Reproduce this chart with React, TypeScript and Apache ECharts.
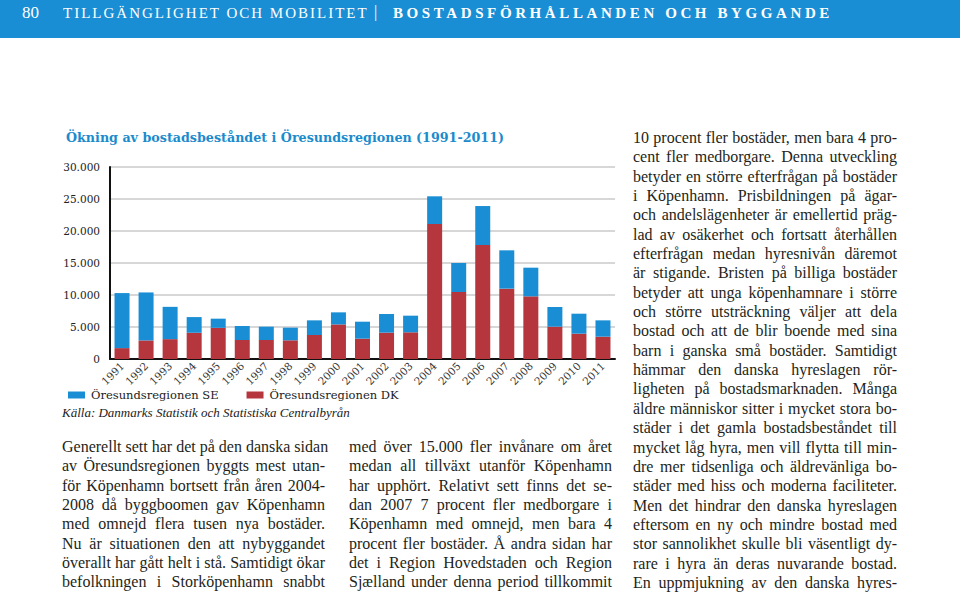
import React, { useEffect, useRef } from "react";
import * as echarts from "echarts";

const years = ["1991","1992","1993","1994","1995","1996","1997","1998","1999","2000","2001","2002","2003","2004","2005","2006","2007","2008","2009","2010","2011"];
const dkValues = [1700, 2900, 3100, 4100, 4870, 2970, 2970, 2920, 3750, 5400, 3180, 4120, 4170, 21090, 10470, 17810, 10990, 9790, 5050, 3960, 3490];
const seValues = [8600, 7500, 5050, 2450, 1430, 2190, 2080, 1980, 2290, 1890, 2650, 2910, 2600, 4330, 4530, 6090, 5990, 4480, 3075, 3120, 2550];
const yTicks = [0, 5000, 10000, 15000, 20000, 25000, 30000];
const yTickLabels = ["0", "5.000", "10.000", "15.000", "20.000", "25.000", "30.000"];
const seriesNames = ["Öresundsregionen SE", "Öresundsregionen DK"];
const chartTitle = "Ökning av bostadsbeståndet i Öresundsregionen (1991-2011)";
const sourceNote = "Källa: Danmarks Statistik och Statistiska Centralbyrån";
const pageNumber = "80";
const headerSection = "TILLGÄNGLIGHET OCH MOBILITET";
const headerChapter = "BOSTADSFÖRHÅLLANDEN OCH BYGGANDE";

const column1 = [
  "Generellt sett har det på den danska sidan",
  "av Öresundsregionen byggts mest utan-",
  "för Köpenhamn bortsett från åren 2004-",
  "2008 då byggboomen gav Köpenhamn",
  "med omnejd flera tusen nya bostäder.",
  "Nu är situationen den att nybyggandet",
  "överallt har gått helt i stå. Samtidigt ökar",
  "befolkningen i Storköpenhamn snabbt",
];
const column2 = [
  "med över 15.000 fler invånare om året",
  "medan all tillväxt utanför Köpenhamn",
  "har upphört. Relativt sett finns det se-",
  "dan 2007 7 procent fler medborgare i",
  "Köpenhamn med omnejd, men bara 4",
  "procent fler bostäder. Å andra sidan har",
  "det i Region Hovedstaden och Region",
  "Sjælland under denna period tillkommit",
];
const column3 = [
  "10 procent fler bostäder, men bara 4 pro-",
  "cent fler medborgare. Denna utveckling",
  "betyder en större efterfrågan på bostäder",
  "i Köpenhamn. Prisbildningen på ägar-",
  "och andelslägenheter är emellertid präg-",
  "lad av osäkerhet och fortsatt återhållen",
  "efterfrågan medan hyresnivån däremot",
  "är stigande. Bristen på billiga bostäder",
  "betyder att unga köpenhamnare i större",
  "och större utsträckning väljer att dela",
  "bostad och att de blir boende med sina",
  "barn i ganska små bostäder. Samtidigt",
  "hämmar den danska hyreslagen rör-",
  "ligheten på bostadsmarknaden. Många",
  "äldre människor sitter i mycket stora bo-",
  "städer i det gamla bostadsbeståndet till",
  "mycket låg hyra, men vill flytta till min-",
  "dre mer tidsenliga och äldrevänliga bo-",
  "städer med hiss och moderna faciliteter.",
  "Men det hindrar den danska hyreslagen",
  "eftersom en ny och mindre bostad med",
  "stor sannolikhet skulle bli väsentligt dy-",
  "rare i hyra än deras nuvarande bostad.",
  "En uppmjukning av den danska hyres-",
];

const BLUE = "#1a8ed4";
const RED = "#b5363d";
const LINE_H = 19.35;
const SERIF = "Liberation Serif";
const SLAB = "DejaVu Serif";

function Column({ lines, left, top, width }: { lines: string[]; left: number; top: number; width: number }) {
  return (
    <div style={{ position: "absolute", left, top, width }}>
      {lines.map((l, i) => (
        <div
          key={i}
          style={{
            height: LINE_H,
            lineHeight: LINE_H + "px",
            fontFamily: SERIF,
            fontSize: 16,
            color: "#231f20",
            textAlign: "justify",
            textAlignLast: "justify" as any,
            whiteSpace: "nowrap",
          }}
        >
          {l}
        </div>
      ))}
    </div>
  );
}

export default function App() {
  const ref = useRef<HTMLDivElement>(null);
  useEffect(() => {
    if (!ref.current) return;
    const chart = echarts.init(ref.current, null, { renderer: "svg" });
    const option: any = {
      animation: false,
      title: {
        text: chartTitle,
        left: 61,
        top: 126,
        textStyle: { fontFamily: SLAB, fontWeight: "bold", fontSize: 12.7, color: "#1b8bcc" },
      },
      legend: {
        data: seriesNames,
        left: 63,
        top: 384,
        icon: "rect",
        itemWidth: 17,
        itemHeight: 7,
        itemGap: 28,
        textStyle: { fontFamily: SLAB, fontSize: 11.5, color: "#222", padding: [0, 0, 0, 1] },
      },
      grid: { left: 110, top: 167, width: 505, height: 192 },
      xAxis: {
        type: "category",
        data: years,
        axisLine: { lineStyle: { color: "#111", width: 2 } },
        axisTick: { show: false },
        axisLabel: { rotate: 45, interval: 0, fontSize: 10.5, color: "#333", margin: 5, fontFamily: SLAB },
      },
      yAxis: {
        type: "value",
        min: 0,
        max: 30000,
        interval: 5000,
        axisLine: { show: true, lineStyle: { color: "#111", width: 2 } },
        axisTick: { show: false },
        splitLine: { lineStyle: { color: "#cacaca", width: 1.5 } },
        axisLabel: {
          formatter: (v: number) => {
            const i = yTicks.indexOf(v);
            return i >= 0 ? yTickLabels[i] : String(v);
          },
          fontSize: 10.5,
          color: "#222",
          margin: 10,
          padding: [5, 0, 0, 0],
          fontFamily: SLAB,
        },
      },
      series: [
        { name: seriesNames[1], type: "bar", stack: "total", data: dkValues, barWidth: 15, itemStyle: { color: RED } },
        { name: seriesNames[0], type: "bar", stack: "total", data: seValues, barWidth: 15, itemStyle: { color: BLUE } },
      ],
      graphic: [
        {
          type: "text",
          left: 62,
          top: 406,
          style: { text: sourceNote, fontFamily: SERIF, fontStyle: "italic", fontSize: 13, fill: "#222" },
        },
      ],
    };
    chart.setOption(option);
    return () => chart.dispose();
  }, []);

  return (
    <div style={{ position: "absolute", left: 0, top: 0, width: 960, height: 593, background: "#fff", overflow: "hidden" }}>
      <div ref={ref} style={{ position: "absolute", left: 0, top: 0, width: 960, height: 593 }} />
      <div style={{ position: "absolute", left: 0, top: 0, width: 960, height: 38, background: BLUE }}>
        <span style={{ position: "absolute", left: 22, top: 3, color: "#fff", fontFamily: SERIF, fontSize: 17, lineHeight: "20px" }}>{pageNumber}</span>
        <span style={{ position: "absolute", left: 63, top: 3, color: "#fff", fontFamily: SERIF, fontSize: 15, lineHeight: "20px", letterSpacing: 2, whiteSpace: "nowrap" }}>{headerSection}</span>
        <span style={{ position: "absolute", left: 374, top: 2, color: "#fff", fontFamily: SERIF, fontSize: 16, lineHeight: "20px" }}>|</span>
        <span style={{ position: "absolute", left: 393, top: 3, color: "#fff", fontFamily: SERIF, fontWeight: "bold", fontSize: 15, lineHeight: "20px", letterSpacing: 3.6, whiteSpace: "nowrap" }}>{headerChapter}</span>
      </div>
      <Column lines={column1} left={62} top={437} width={263} />
      <Column lines={column2} left={349} top={437} width={263} />
      <Column lines={column3} left={633} top={128} width={264} />
    </div>
  );
}
